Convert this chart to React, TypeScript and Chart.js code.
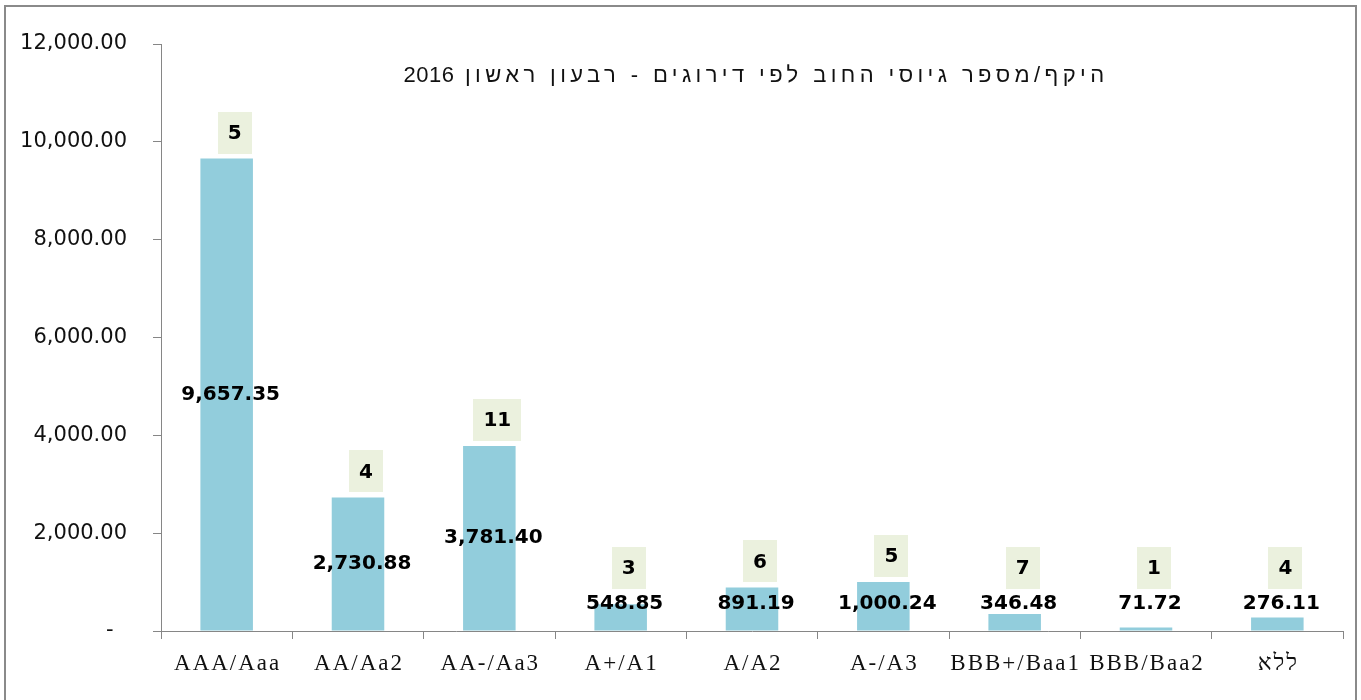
import React, { useEffect, useRef, useState } from "react";
import { Chart, registerables } from "chart.js";

Chart.register(...registerables);

const categories = ["AAA/Aaa", "AA/Aa2", "AA-/Aa3", "A+/A1", "A/A2", "A-/A3", "BBB+/Baa1", "BBB/Baa2", "ללא"];
const volumes = [9657.35, 2730.88, 3781.4, 548.85, 891.19, 1000.24, 346.48, 71.72, 276.11];
const counts = [5, 4, 11, 3, 6, 5, 7, 1, 4];
const yTicks = [0, 2000, 4000, 6000, 8000, 10000, 12000];
const chartTitle = "היקף/מספר גיוסי החוב לפי דירוגים - רבעון ראשון";
const chartTitleYear = "2016";

const fmt = (v: number) =>
  v.toLocaleString("en-US", { minimumFractionDigits: 2, maximumFractionDigits: 2 });

const overlayPlugin = {
  id: "overlay",
  afterDraw(chart: any) {
    const ctx = chart.ctx;
    const meta = chart.getDatasetMeta(0);
    ctx.save();
    meta.data.forEach((bar: any, i: number) => {
      const { x, y, base } = bar.getProps(["x", "y", "base"], true);
      const labelY = Math.min((y + base) / 2, base - 27);
      ctx.font = "bold 20px 'DejaVu Sans'";
      ctx.textAlign = "center";
      ctx.textBaseline = "middle";
      ctx.fillStyle = "#000";
      ctx.fillText(fmt(volumes[i]), x + 4, labelY);

      const top = Math.min(y, labelY - 10);
      const txt = String(counts[i]);
      const w = ctx.measureText(txt).width + 20;
      const h = 42;
      const cx = x + 8;
      const cy = top - 26;
      ctx.fillStyle = "#EBF1DE";
      ctx.fillRect(Math.round(cx - w / 2), Math.round(cy - h / 2), Math.round(w), h);
      ctx.fillStyle = "#000";
      ctx.fillText(txt, cx, cy + 1);
    });
    ctx.restore();
  },
};

type Layout = { xs: number[]; axisTop: number; cx: number; top: number };

export default function App() {
  const ref = useRef<HTMLCanvasElement | null>(null);
  const [layout, setLayout] = useState<Layout | null>(null);

  useEffect(() => {
    if (!ref.current) return;
    const chart = new Chart(ref.current, {
      type: "bar",
      data: {
        labels: categories,
        datasets: [
          {
            data: volumes,
            backgroundColor: "#92CDDC",
            borderWidth: 0,
            barPercentage: 0.4,
            categoryPercentage: 1,
          },
        ],
      },
      options: {
        responsive: false,
        animation: false,
        events: [],
        layout: { padding: { top: 44, right: 18, left: 0, bottom: 0 } },
        plugins: {
          legend: { display: false },
          title: { display: false },
          tooltip: { enabled: false },
        },
        scales: {
          x: {
            grid: { drawOnChartArea: false, color: "#868686", tickLength: 8, offset: true },
            border: { color: "#868686", width: 1 },
            ticks: { display: false },
            afterFit: (s: any) => {
              s.height = 69;
            },
          },
          y: {
            min: 0,
            max: 12000,
            afterBuildTicks: (s: any) => {
              s.ticks = yTicks.map((v) => ({ value: v }));
            },
            ticks: {
              padding: 26,
              color: "#111",
              font: { family: "'DejaVu Sans'", size: 21 },
              callback: (v: any) => (Number(v) === 0 ? "-  " : fmt(Number(v))),
            },
            grid: { drawOnChartArea: false, color: "#868686", tickLength: 8 },
            border: { color: "#868686", width: 1 },
            afterFit: (s: any) => {
              s.width = 161;
            },
          },
        },
      },
      plugins: [overlayPlugin],
    });
    const xs = categories.map((_, i) => chart.scales.x.getPixelForValue(i));
    setLayout({
      xs,
      axisTop: chart.scales.x.top,
      cx: (chart.chartArea.left + chart.chartArea.right) / 2,
      top: chart.chartArea.top,
    });
    return () => chart.destroy();
  }, []);

  return (
    <div
      style={{
        position: "fixed",
        left: 0,
        top: 0,
        width: 1361,
        height: 700,
        overflow: "hidden",
        background: "#fff",
      }}
    >
      <div
        style={{
          position: "absolute",
          left: 4,
          top: 5,
          width: 1349,
          height: 730,
          border: "2px solid #8a8a8a",
        }}
      />
      <canvas ref={ref} width={1361} height={700} style={{ position: "absolute", left: 0, top: 0 }} />
      {layout && (
        <>
          <div
            dir="rtl"
            style={{
              position: "absolute",
              left: layout.cx + 4,
              top: layout.top + 31,
              transform: "translate(-50%, -50%)",
              whiteSpace: "nowrap",
              fontFamily: "'Liberation Sans', sans-serif",
              fontSize: 22,
              letterSpacing: 4.4,
              color: "#111",
              lineHeight: 1,
            }}
          >
            {chartTitle}{" "}
            <span style={{ letterSpacing: 0.5 }}>{chartTitleYear}</span>
          </div>
          {categories.map((c, i) => (
            <div
              key={c}
              dir="auto"
              style={{
                position: "absolute",
                left: layout.xs[i] + 1,
                top: layout.axisTop + 31,
                transform: "translate(-50%, -50%)",
                whiteSpace: "nowrap",
                fontFamily: "'Liberation Serif', serif",
                fontSize: 23,
                letterSpacing: 2,
                color: "#111",
                lineHeight: 1,
              }}
            >
              {c}
            </div>
          ))}
        </>
      )}
    </div>
  );
}
